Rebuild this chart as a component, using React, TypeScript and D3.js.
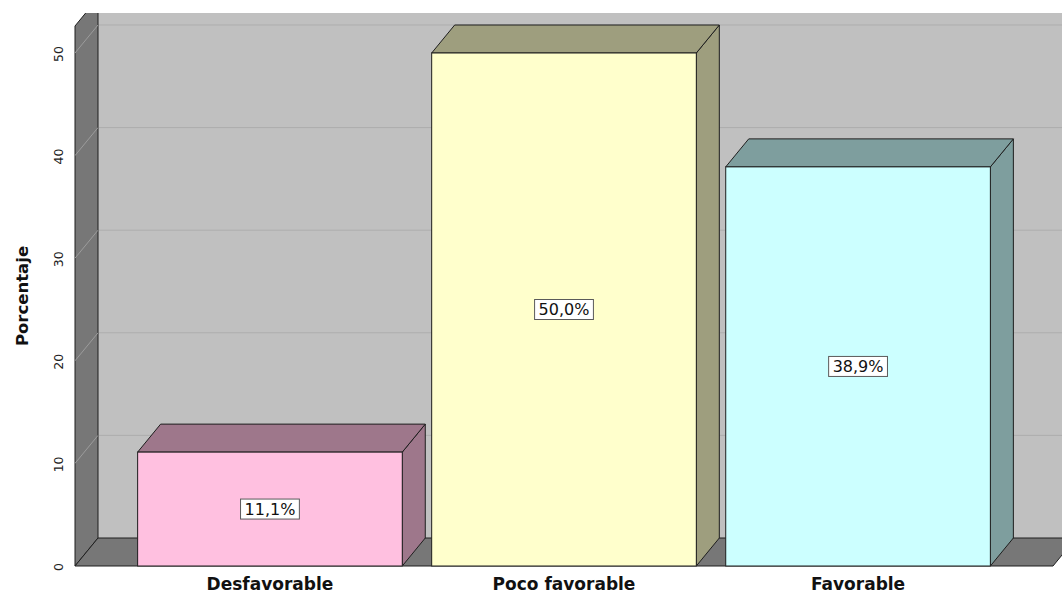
import React, { useRef, useEffect } from 'react';
import * as d3 from 'd3';

const categories = ['Desfavorable', 'Poco favorable', 'Favorable'];
const percentages = [11.1, 50.0, 38.9];
const valueLabels = ['11,1%', '50,0%', '38,9%'];
const yTicks = [0, 10, 20, 30, 40, 50];
const frontColors = ['#ffc0e0', '#ffffcc', '#ccffff'];

const W = 1062;
const H = 593;

const App = () => {
  const ref = useRef<SVGSVGElement | null>(null);

  useEffect(() => {
    if (!ref.current) return;
    const svg = d3.select(ref.current);
    svg.selectAll('*').remove();

    // 3d depth offset of walls and bars
    const dx = 23;
    const dy = -28;
    const left = 75;
    const right = 1053;
    const wallTop = 26;
    const clipTop = 13;

    const x = d3.scaleBand<string>()
      .domain(categories)
      .range([left, right])
      .paddingInner(0.1)
      .paddingOuter(0.213);

    const y = d3.scaleLinear().domain([0, 50]).range([566, 53]);
    const base = y(0);

    svg.append('defs').append('clipPath').attr('id', 'plotclip')
      .append('rect').attr('x', 0).attr('y', clipTop).attr('width', W).attr('height', H - clipTop);

    const g = svg.append('g').attr('clip-path', 'url(#plotclip)');
    const poly = (pts: number[][]) => 'M' + pts.map(p => p.join(',')).join('L') + 'Z';

    // back wall
    g.append('rect')
      .attr('x', left + dx).attr('y', wallTop + dy)
      .attr('width', W).attr('height', base - wallTop)
      .attr('fill', '#c0c0c0');

    g.selectAll('.grid-back')
      .data(yTicks.slice(1))
      .join('line')
      .attr('x1', left + dx).attr('x2', W)
      .attr('y1', d => y(d) + dy).attr('y2', d => y(d) + dy)
      .attr('stroke', '#adadad').attr('stroke-width', 1);

    // side wall
    g.append('path')
      .attr('d', poly([[left, base], [left, wallTop], [left + dx, wallTop + dy], [left + dx, base + dy]]))
      .attr('fill', '#777777').attr('stroke', '#1e1e1e').attr('stroke-width', 1);

    g.selectAll('.grid-side')
      .data(yTicks.slice(1))
      .join('line')
      .attr('x1', left).attr('x2', left + dx)
      .attr('y1', d => y(d)).attr('y2', d => y(d) + dy)
      .attr('stroke', '#9c9c9c').attr('stroke-width', 1);

    // floor
    g.append('path')
      .attr('d', poly([[left, base], [right, base], [right + dx, base + dy], [left + dx, base + dy]]))
      .attr('fill', '#777777').attr('stroke', '#1e1e1e').attr('stroke-width', 1);

    // bars
    categories.forEach((c, i) => {
      const x0 = x(c) as number;
      const x1 = x0 + x.bandwidth();
      const yt = y(percentages[i]);
      const front = d3.rgb(frontColors[i]);
      const side = d3.rgb(front.r * 0.62, front.g * 0.62, front.b * 0.62).toString();
      const bar = g.append('g');
      bar.append('path')
        .attr('d', poly([[x1, base], [x1, yt], [x1 + dx, yt + dy], [x1 + dx, base + dy]]))
        .attr('fill', side).attr('stroke', '#1e1e1e').attr('stroke-width', 1);
      bar.append('path')
        .attr('d', poly([[x0, yt], [x1, yt], [x1 + dx, yt + dy], [x0 + dx, yt + dy]]))
        .attr('fill', side).attr('stroke', '#1e1e1e').attr('stroke-width', 1);
      bar.append('rect')
        .attr('x', x0).attr('y', yt)
        .attr('width', x.bandwidth()).attr('height', base - yt)
        .attr('fill', frontColors[i]).attr('stroke', '#1e1e1e').attr('stroke-width', 1);
    });

    // value labels
    categories.forEach((c, i) => {
      const cx = (x(c) as number) + x.bandwidth() / 2;
      const cy = (y(percentages[i]) + base) / 2;
      const lg = svg.append('g').attr('transform', `translate(${cx},${cy})`);
      const t = lg.append('text')
        .attr('text-anchor', 'middle')
        .attr('dy', '0.36em')
        .attr('font-family', 'DejaVu Sans, sans-serif')
        .attr('font-size', 16)
        .attr('fill', '#111')
        .text(valueLabels[i]);
      const bb = (t.node() as SVGTextElement).getBBox();
      lg.insert('rect', 'text')
        .attr('x', -bb.width / 2 - 4).attr('y', -10)
        .attr('width', bb.width + 8).attr('height', 20)
        .attr('fill', '#ffffff').attr('stroke', '#5a5a5a').attr('stroke-width', 1);
    });

    // y tick labels
    svg.selectAll('.ytick')
      .data(yTicks)
      .join('text')
      .attr('transform', d => `translate(58,${y(d) + 1}) rotate(-90)`)
      .attr('text-anchor', 'middle')
      .attr('dy', '0.36em')
      .attr('font-family', 'DejaVu Sans, sans-serif')
      .attr('font-size', 12.5)
      .attr('fill', '#222')
      .text(d => d);

    // y title
    svg.append('text')
      .attr('transform', `translate(22,${(wallTop + base) / 2}) rotate(-90)`)
      .attr('text-anchor', 'middle')
      .attr('dy', '0.36em')
      .attr('font-family', 'DejaVu Sans, sans-serif')
      .attr('font-weight', 'bold')
      .attr('font-size', 16.5)
      .attr('fill', '#111')
      .text('Porcentaje');

    // x labels
    svg.selectAll('.xlabel')
      .data(categories)
      .join('text')
      .attr('x', d => (x(d) as number) + x.bandwidth() / 2)
      .attr('y', 590)
      .attr('text-anchor', 'middle')
      .attr('font-family', 'DejaVu Sans, sans-serif')
      .attr('font-weight', 'bold')
      .attr('font-size', 17)
      .attr('fill', '#111')
      .text(d => d);
  }, []);

  return (
    <>
      <style>{'body{margin:0}'}</style>
      <svg ref={ref} width={W} height={H} style={{ display: 'block', background: '#ffffff' }} />
    </>
  );
};

export default App;
